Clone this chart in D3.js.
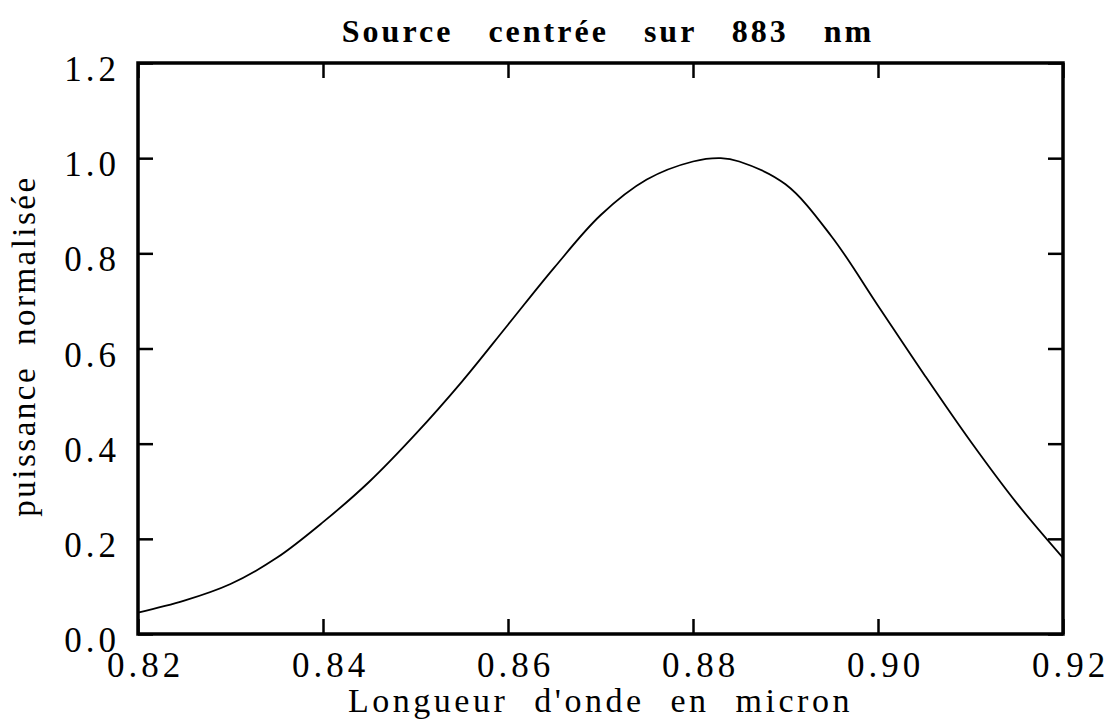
<!DOCTYPE html>
<html>
<head>
<meta charset="utf-8">
<script src="https://cdn.jsdelivr.net/npm/d3@7"></script>
<style>
  html, body { margin: 0; padding: 0; background: #fff; }
  svg text { font-family: "Liberation Serif", "Times New Roman", serif; fill: #000; }
</style>
</head>
<body>
<svg id="chart" width="1115" height="724"></svg>
<script>
// Normalised source spectrum (wavelength in micron, relative power)
const wavelength = [0.820, 0.825, 0.830, 0.835, 0.840, 0.845, 0.850, 0.855, 0.860, 0.865,
                    0.870, 0.875, 0.880, 0.883, 0.885, 0.890, 0.895, 0.900, 0.905, 0.910,
                    0.915, 0.920];
const power = [0.045, 0.070, 0.105, 0.160, 0.235, 0.320, 0.420, 0.530, 0.650, 0.770,
               0.880, 0.955, 0.993, 1.000, 0.993, 0.945, 0.835, 0.690, 0.545, 0.405,
               0.275, 0.160];
const xTicks = [0.82, 0.84, 0.86, 0.88, 0.90, 0.92];
const yTicks = [0.0, 0.2, 0.4, 0.6, 0.8, 1.0, 1.2];
const titleText = "Source centrée sur 883 nm";
const xTitle = "Longueur d'onde en micron";
const yTitle = "puissance normalisée";

const svg = d3.select("#chart");
const m = { left: 138, right: 1063, top: 63, bottom: 634 };

const x = d3.scaleLinear().domain([0.82, 0.92]).range([m.left, m.right]);
const y = d3.scaleLinear().domain([0, 1.2]).range([m.bottom, m.top]);

const tickLen = 15;
const tickFont = 35;

// Bottom axis with labels, inward ticks
const gx = svg.append("g").attr("transform", `translate(0,${m.bottom})`)
  .call(d3.axisBottom(x).tickValues(xTicks).tickFormat(d3.format(".2f"))
        .tickSizeInner(-tickLen).tickSizeOuter(0).tickPadding(18));
gx.select(".domain").remove();
gx.selectAll(".tick line").attr("stroke", "#000").attr("stroke-width", 2.5);
gx.selectAll(".tick text").attr("font-size", tickFont).attr("letter-spacing", 4)
  .attr("dx", 7).attr("dy", "0.71em");

// Top axis, ticks only
const gt = svg.append("g").attr("transform", `translate(0,${m.top})`)
  .call(d3.axisTop(x).tickValues(xTicks).tickFormat("").tickSizeInner(-tickLen).tickSizeOuter(0));
gt.select(".domain").remove();
gt.selectAll(".tick line").attr("stroke", "#000").attr("stroke-width", 2.5);

// Left axis with labels
const gy = svg.append("g").attr("transform", `translate(${m.left},0)`)
  .call(d3.axisLeft(y).tickValues(yTicks).tickFormat(d3.format(".1f"))
        .tickSizeInner(-tickLen).tickSizeOuter(0).tickPadding(18));
gy.select(".domain").remove();
gy.selectAll(".tick line").attr("stroke", "#000").attr("stroke-width", 2.5);
gy.selectAll(".tick text").attr("font-size", tickFont).attr("letter-spacing", 4)
  .attr("dy", "0.5em");

// Right axis, ticks only
const gr = svg.append("g").attr("transform", `translate(${m.right},0)`)
  .call(d3.axisRight(y).tickValues(yTicks).tickFormat("").tickSizeInner(-tickLen).tickSizeOuter(0));
gr.select(".domain").remove();
gr.selectAll(".tick line").attr("stroke", "#000").attr("stroke-width", 2.5);

// Frame
svg.append("rect")
  .attr("x", m.left).attr("y", m.top)
  .attr("width", m.right - m.left).attr("height", m.bottom - m.top)
  .attr("fill", "none").attr("stroke", "#000").attr("stroke-width", 3.5);

// Spectrum curve
const pts = wavelength.map((w, i) => [w, power[i]]);
const line = d3.line().x(d => x(d[0])).y(d => y(d[1])).curve(d3.curveCatmullRom.alpha(0.5));
svg.append("path").datum(pts)
  .attr("d", line)
  .attr("fill", "none").attr("stroke", "#000").attr("stroke-width", 1.8);

// Title
svg.append("text")
  .attr("x", 608).attr("y", 42)
  .attr("text-anchor", "middle")
  .attr("font-size", 32).attr("font-weight", "bold")
  .attr("letter-spacing", 3).attr("word-spacing", 24)
  .text(titleText);

// Axis titles
svg.append("text")
  .attr("x", (m.left + m.right) / 2).attr("y", 712)
  .attr("text-anchor", "middle")
  .attr("font-size", 34).attr("letter-spacing", 3.5).attr("word-spacing", 14)
  .text(xTitle);

svg.append("text")
  .attr("transform", `translate(35,346) rotate(-90)`)
  .attr("text-anchor", "middle")
  .attr("font-size", 33).attr("letter-spacing", 2.5).attr("word-spacing", 10)
  .text(yTitle);
</script>
</body>
</html>
